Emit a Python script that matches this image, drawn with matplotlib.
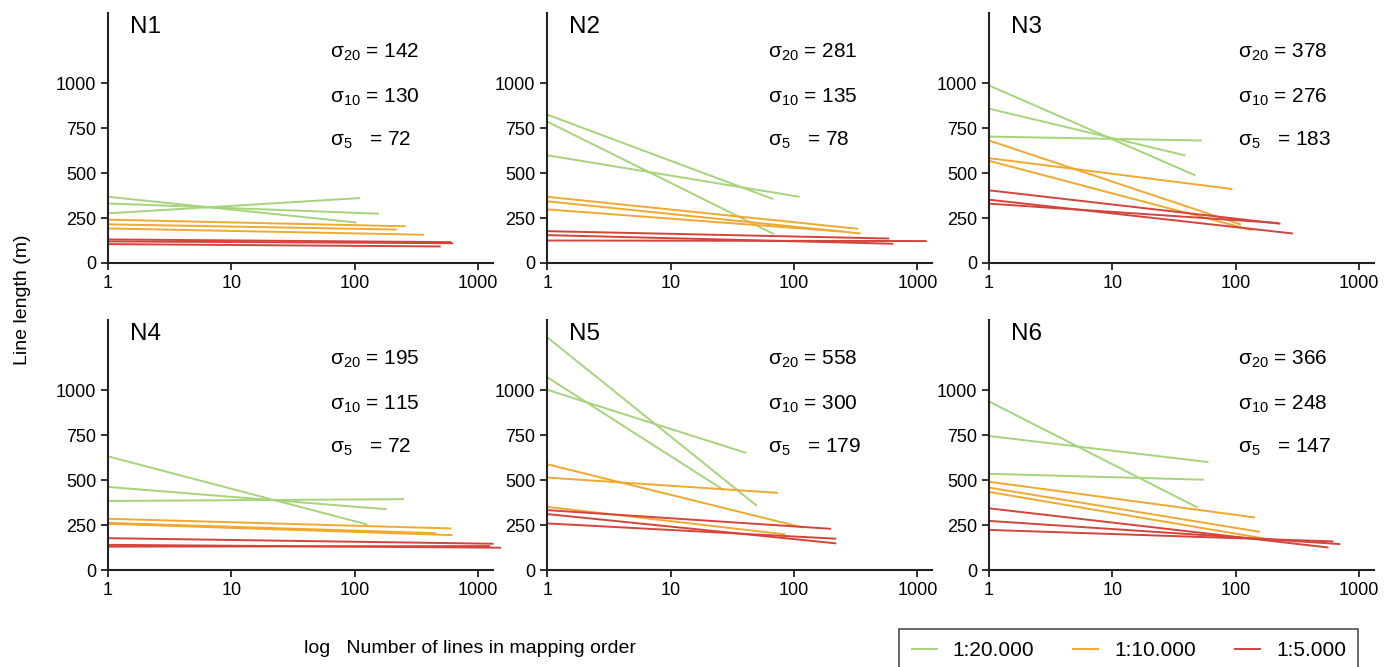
import matplotlib
matplotlib.use("Agg")
import matplotlib.pyplot as plt
from matplotlib.lines import Line2D

plt.rcParams['font.family'] = ['Liberation Sans', 'DejaVu Sans']
plt.rcParams['mathtext.fontset'] = 'custom'
plt.rcParams['mathtext.rm'] = 'Liberation Sans'
plt.rcParams['mathtext.it'] = 'Liberation Sans'

# each line: (y at x=1, x at end, y at end)
n1_g = [(368, 103, 225), (331, 157, 274), (276, 110, 361)]
n1_o = [(241, 259, 204), (215, 219, 186), (192, 364, 157)]
n1_r = [(131, 607, 116), (120, 626, 110), (105, 497, 92)]

n2_g = [(825, 68, 355), (786, 69, 160), (599, 111, 368)]
n2_o = [(368, 332, 190), (343, 347, 164), (298, 246, 175)]
n2_r = [(177, 590, 136), (155, 638, 107), (125, 1191, 122)]

n3_g = [(987, 47, 487), (858, 39, 598), (703, 53, 681)]
n3_o = [(681, 110, 214), (583, 94, 411), (568, 134, 183)]
n3_r = [(404, 230, 218), (352, 290, 164), (330, 225, 222)]

n4_g = [(632, 126, 253), (462, 181, 338), (384, 251, 394)]
n4_o = [(285, 607, 231), (262, 453, 205), (257, 619, 194)]
n4_r = [(177, 1331, 146), (140, 1530, 124), (130, 1250, 133)]

n5_g = [(1294, 50, 357), (1072, 27, 444), (1002, 41, 651)]
n5_o = [(588, 120, 235), (514, 74, 429), (351, 85, 198)]
n5_r = [(333, 200, 229), (311, 220, 148), (259, 220, 174)]

n6_g = [(937, 49, 347), (745, 60, 600), (535, 55, 502)]
n6_o = [(491, 143, 292), (458, 157, 212), (434, 181, 172)]
n6_r = [(343, 564, 125), (273, 702, 144), (223, 620, 159)]

names = ['N1', 'N2', 'N3', 'N4', 'N5', 'N6']
sigma20 = [142, 281, 378, 195, 558, 366]
sigma10 = [130, 135, 276, 115, 300, 248]
sigma5 = [72, 78, 183, 72, 179, 147]
groups = [(n1_g, n1_o, n1_r), (n2_g, n2_o, n2_r), (n3_g, n3_o, n3_r),
          (n4_g, n4_o, n4_r), (n5_g, n5_o, n5_r), (n6_g, n6_o, n6_r)]

scales = ['1:20.000', '1:10.000', '1:5.000']
colors = ['#a6d37c', '#f0a830', '#d2443c']

fig = plt.figure(figsize=(13.96, 6.67), dpi=100)

lefts = [0.0774, 0.392, 0.7085]
bottoms = [0.6057, 0.1454]
w, h = 0.2758, 0.3748
text_x = [0.577, 0.574, 0.647]

for i in range(6):
    r, c = divmod(i, 3)
    ax = fig.add_axes([lefts[c], bottoms[r], w, h])
    for lines, col in zip(groups[i], colors):
        for y0, xe, ye in lines:
            ax.plot([1, xe], [y0, ye], color=col, lw=1.4, clip_on=False,
                    solid_capstyle='butt')
    ax.set_xscale('log')
    ax.set_xlim(1, 1320)
    ax.set_ylim(0, 1390)
    ax.set_xticks([1, 10, 100, 1000])
    ax.set_xticklabels(['1', '10', '100', '1000'])
    ax.xaxis.set_minor_locator(matplotlib.ticker.NullLocator())
    ax.set_yticks([0, 250, 500, 750, 1000])
    ax.spines['top'].set_visible(False)
    ax.spines['right'].set_visible(False)
    for s in ['left', 'bottom']:
        ax.spines[s].set_linewidth(1.5)
        ax.spines[s].set_color('#222222')
    ax.tick_params(direction='out', length=5, width=1.3, labelsize=13,
                   color='#222222')
    ax.text(0.057, 0.944, names[i], transform=ax.transAxes, fontsize=17.5,
            va='center', ha='left')
    tx = text_x[c]
    ax.text(tx, 0.842, 'σ$_{20}$ = %d' % sigma20[i], transform=ax.transAxes,
            fontsize=15, va='center')
    ax.text(tx, 0.664, 'σ$_{10}$ = %d' % sigma10[i], transform=ax.transAxes,
            fontsize=15, va='center')
    ax.text(tx, 0.492, 'σ$_{5}$   = %d' % sigma5[i], transform=ax.transAxes,
            fontsize=15, va='center')

fig.text(0.016, 0.55, 'Line length (m)', rotation=90, fontsize=14,
         va='center', ha='center')
fig.text(0.337, 0.028, 'log   Number of lines in mapping order', fontsize=14,
         va='center', ha='center')

handles = [Line2D([], [], color=c, lw=1.4) for c in colors]
leg = fig.legend(handles, scales, ncol=3, loc='upper left',
                 bbox_to_anchor=(0.644, 0.057), borderaxespad=0, fontsize=15,
                 frameon=True, fancybox=False, edgecolor='#222222',
                 handlelength=1.2, columnspacing=1.9, borderpad=0.6,
                 handletextpad=0.75)
leg.get_frame().set_linewidth(1.2)

fig.savefig('out.png', dpi=100)
